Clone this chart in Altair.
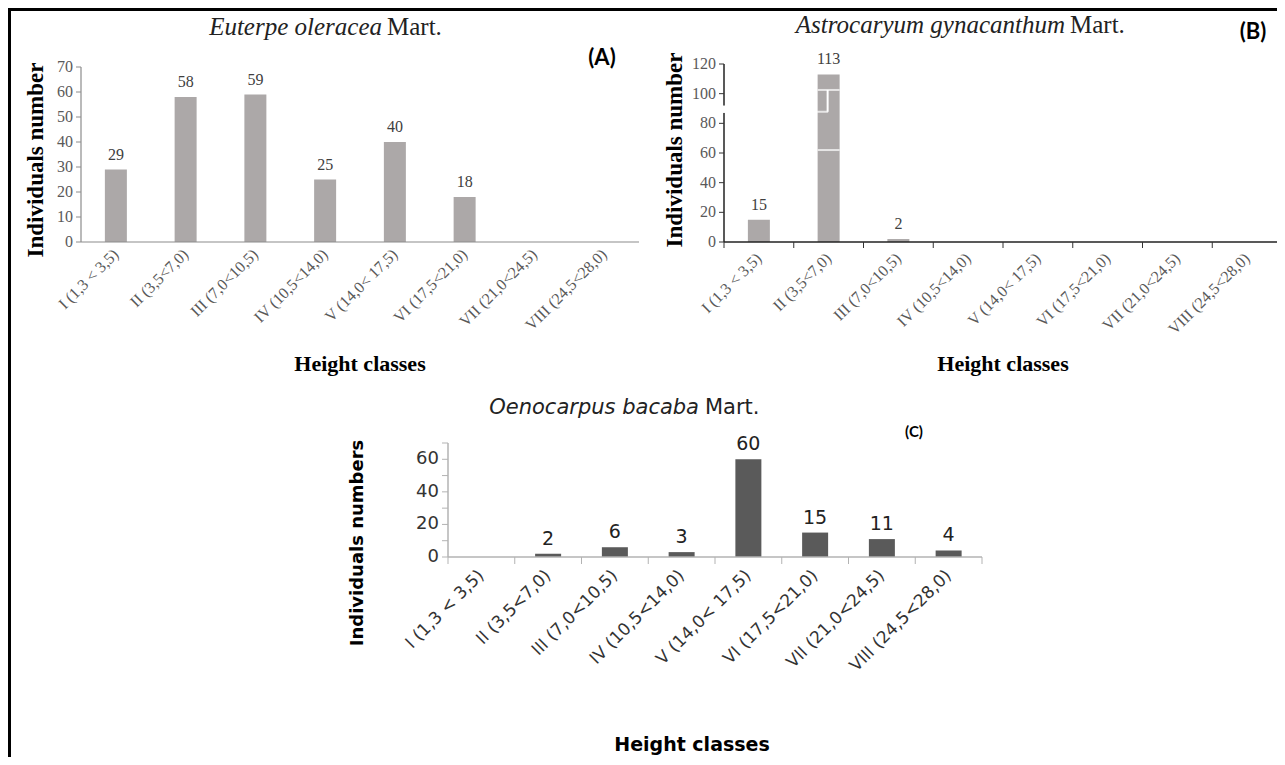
import altair as alt
import pandas as pd

# ---------------- data ----------------
classes = ["I (1,3 < 3,5)", "II (3,5<7,0)", "III (7,0<10,5)", "IV (10,5<14,0)",
           "V (14,0< 17,5)", "VI (17,5<21,0)", "VII (21,0<24,5)", "VIII (24,5<28,0)"]
euterpe = [29, 58, 59, 25, 40, 18, 0, 0]
astrocaryum = [15, 113, 2, 0, 0, 0, 0, 0]
oenocarpus = [0, 2, 6, 3, 60, 15, 11, 4]

ticks_a = [0, 10, 20, 30, 40, 50, 60, 70]
ticks_b = [0, 20, 40, 60, 80, 100, 120]
ticks_c = [0, 10, 20, 30, 40, 50, 60, 70]
ticklabels_c = ["0", "", "20", "", "40", "", "60", ""]

# broken-axis artefacts drawn on panel B (values on B's y scale)
b_axis_gap = [87, 92]
b_bar_cuts = [102.5, 62]
b_bar_notch = [87.8, 102.5]

title_a = ["Euterpe oleracea", "Mart."]
title_b = ["Astrocaryum gynacanthum", "Mart."]
title_c = ["Oenocarpus bacaba", "Mart."]

W, H = 1269, 749
SERIF = "Liberation Serif"
SANS = "DejaVu Sans"


def text_mark(text, x, y, font, size, weight="normal", style="normal",
              align="center", color="black", angle=0):
    return alt.Chart(pd.DataFrame({"t": [text]})).mark_text(
        font=font, fontSize=size, fontWeight=weight, fontStyle=style,
        align=align, baseline="middle", color=color, angle=angle
    ).encode(x=alt.value(x), y=alt.value(y), text="t:N")


def panel(values, xr, yr, ydom, yticks, yticklabels, fill, bar_w, font, st, extra=None):
    x0, x1 = xr
    y0 = yr[0]
    df = pd.DataFrame({"cls": classes, "n": values, "lab": [str(v) for v in values]})
    xscale = alt.Scale(domain=classes, range=xr, paddingInner=0, paddingOuter=0)
    yscale = alt.Scale(domain=ydom, range=yr, nice=False, zero=True)

    def X(field="cls:N", **kw):
        return alt.X(field, sort=classes, scale=xscale, axis=None, **kw)

    def Y(field, **kw):
        return alt.Y(field, scale=yscale, axis=None, **kw)

    layers = []
    # bars
    layers.append(alt.Chart(df).mark_bar(color=fill, width=bar_w).encode(x=X(), y=Y("n:Q")))
    # value labels
    layers.append(alt.Chart(df).transform_filter("datum.n > 0").mark_text(
        font=font, fontSize=st["valsize"], color=st["valcolor"], baseline="bottom", dy=st["valdy"]
    ).encode(x=X(), y=Y("n:Q"), text="lab:N"))
    # y axis line
    layers.append(alt.Chart(pd.DataFrame({"lo": [ydom[0]], "hi": [ydom[1]]})).mark_rule(
        color=st["domcolor"], strokeWidth=st["domwidth"]
    ).encode(x=alt.value(x0), y=Y("lo:Q"), y2="hi:Q"))
    # y ticks and labels
    tdf = pd.DataFrame({"t": yticks, "lab": yticklabels})
    layers.append(alt.Chart(tdf).mark_rule(color=st["tickcolor"], strokeWidth=1).encode(
        x=alt.value(x0 - st["yticksize"]), x2=alt.value(x0), y=Y("t:Q")))
    layers.append(alt.Chart(tdf).mark_text(
        font=font, fontSize=st["ylabsize"], color=st["labcolor"], align="right", baseline="middle"
    ).encode(x=alt.value(x0 - st["yticksize"] - 3), y=Y("t:Q"), text="lab:N"))
    # x axis line
    layers.append(alt.Chart(pd.DataFrame({"z": [ydom[0]]})).mark_rule(
        color=st["domcolor"], strokeWidth=st["domwidth"]
    ).encode(x=alt.value(x0), x2=alt.value(x1), y=Y("z:Q")))
    # x ticks at class boundaries
    if st["xticksize"] > 0:
        layers.append(alt.Chart(df).mark_rule(color=st["tickcolor"], strokeWidth=1).encode(
            x=X(bandPosition=0), y=alt.value(y0), y2=alt.value(y0 + st["xticksize"])))
        layers.append(alt.Chart(df.tail(1)).mark_rule(color=st["tickcolor"], strokeWidth=1).encode(
            x=X(bandPosition=1), y=alt.value(y0), y2=alt.value(y0 + st["xticksize"])))
    # x labels (rotated)
    layers.append(alt.Chart(df).mark_text(
        font=font, fontSize=st["xlabsize"], color=st["labcolor"], angle=315,
        align="right", baseline="middle", dx=st["xlabdx"]
    ).encode(x=X(), y=alt.value(y0 + st["xlabpad"]), text="cls:N"))
    if extra is not None:
        layers += extra(X, Y)
    return alt.layer(*layers)


def b_extras(X, Y):
    cat = classes[1]
    cuts = alt.Chart(pd.DataFrame({"cls": [cat] * len(b_bar_cuts), "v": b_bar_cuts})).mark_tick(
        color="white", thickness=2, size=22, orient="horizontal"
    ).encode(x=X(), y=Y("v:Q"))
    notch_h = alt.Chart(pd.DataFrame({"cls": [cat], "v": [b_bar_notch[0]]})).mark_tick(
        color="white", thickness=2, size=11, orient="horizontal", xOffset=-6
    ).encode(x=X(), y=Y("v:Q"))
    notch_v = alt.Chart(pd.DataFrame({"cls": [cat], "v": [b_bar_notch[0]], "v2": [b_bar_notch[1]]})).mark_rule(
        color="white", strokeWidth=2, xOffset=-1
    ).encode(x=X(), y=Y("v:Q"), y2="v2:Q")
    gap = alt.Chart(pd.DataFrame({"v": [b_axis_gap[0]], "v2": [b_axis_gap[1]]})).mark_rule(
        color="white", strokeWidth=4
    ).encode(x=alt.value(716), y=Y("v:Q"), y2="v2:Q")
    return [cuts, notch_h, notch_v, gap]


stA = dict(valsize=16, valcolor="#404040", valdy=-7,
           domcolor="#8c8c8c", domwidth=1.2, tickcolor="#8c8c8c",
           yticksize=5, ylabsize=16, labcolor="#595959",
           xticksize=0, xlabsize=16, xlabpad=10, xlabdx=0)
stB = dict(stA, domcolor="#222222", domwidth=1.5, tickcolor="#333333", xticksize=6, xlabpad=14)
stC = dict(valsize=19, valcolor="#222222", valdy=-5,
           domcolor="#b3b3b3", domwidth=1.5, tickcolor="#b3b3b3",
           yticksize=6, ylabsize=18, labcolor="#333333",
           xticksize=7, xlabsize=17, xlabpad=16, xlabdx=0)

pA = panel(euterpe, [73, 631], [234, 59], [0, 70], ticks_a, [str(t) for t in ticks_a],
           "#aca8a8", 22, SERIF, stA)
pB = panel(astrocaryum, [716, 1274], [234, 56], [0, 120], ticks_b, [str(t) for t in ticks_b],
           "#aca8a8", 22, SERIF, stB, b_extras)
pC = panel(oenocarpus, [440, 974], [549, 435], [0, 70], ticks_c, ticklabels_c,
           "#5a5a5a", 26, SANS, stC)

texts = [
    # panel titles
    text_mark(title_a[0], 374, 19, SERIF, 25, style="italic", align="right", color="#222"),
    text_mark(title_a[1], 379, 19, SERIF, 25, align="left", color="#222"),
    text_mark(title_b[0], 1057, 17, SERIF, 25, style="italic", align="right", color="#222"),
    text_mark(title_b[1], 1062, 17, SERIF, 25, align="left", color="#222"),
    text_mark(title_c[0], 691, 400, SANS, 21, style="italic", align="right", color="#222"),
    text_mark(title_c[1], 697, 400, SANS, 21, align="left", color="#222"),
    text_mark("(A)", 594, 50, "Lato", 22, weight="bold"),
    text_mark("(B)", 1245, 24, "Lato", 22, weight="bold"),
    text_mark("(C)", 906, 424, "Lato", 15, weight="bold"),
    # axis titles
    text_mark("Individuals number", 28, 152, SERIF, 23, weight="bold", angle=270),
    text_mark("Height classes", 352, 356, SERIF, 22, weight="bold"),
    text_mark("Individuals number", 667, 142, SERIF, 23, weight="bold", angle=270),
    text_mark("Height classes", 995, 356, SERIF, 22, weight="bold"),
    text_mark("Individuals numbers", 350, 535, SANS, 18, weight="bold", angle=270),
    text_mark("Height classes", 684, 737, SANS, 19, weight="bold"),
]

border_df = pd.DataFrame({"k": [0]})
border = [
    alt.Chart(border_df).mark_rule(color="black", strokeWidth=3).encode(
        x=alt.value(0), x2=alt.value(W), y=alt.value(1.5)),
    alt.Chart(border_df).mark_rule(color="black", strokeWidth=3).encode(
        x=alt.value(1.5), y=alt.value(0), y2=alt.value(H)),
]

chart = alt.layer(pA, pB, pC, *texts, *border).resolve_scale(
    x="independent", y="independent"
).properties(
    width=W, height=H, padding=0, autosize=alt.AutoSizeParams(type="none"),
    background="white",
).configure_view(stroke=None)

chart.save("out.html", embed_options={"renderer": "svg", "actions": False})
